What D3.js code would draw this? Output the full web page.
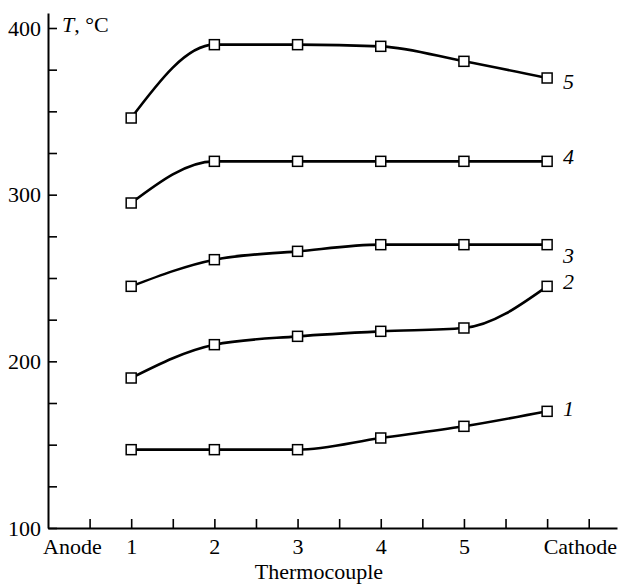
<!DOCTYPE html>
<html lang="en">
<head>
    <meta charset="UTF-8">
    <title>T vs thermocouple</title>
    <script src="https://cdn.jsdelivr.net/npm/d3@7"></script>
    <style>
        body { margin: 0; background: #fff; }
        text { font-family: "Liberation Serif", "Times New Roman", serif; fill: #000; }
    </style>
</head>
<body>
<svg id="svg" width="621" height="584"></svg>
<script>
    // data
    var positions = [1, 2, 3, 4, 5, 6];
    var xLabels = ["Anode", "1", "2", "3", "4", "5", "Cathode"];
    var seriesNames = ["1", "2", "3", "4", "5"];
    var s1 = [147, 147, 147, 154, 161, 170];
    var s2 = [190, 210, 215, 218, 220, 245];
    var s3 = [245, 261, 266, 270, 270, 270];
    var s4 = [295, 320, 320, 320, 320, 320];
    var s5 = [346, 390, 390, 389, 380, 370];
    var yTicks = [100, 125, 150, 175, 200, 225, 250, 275, 300, 325, 350, 375, 400];

    var allSeries = [s1, s2, s3, s4, s5];
    // label nudge for the curve numbers (px)
    var labelDy = [-3, -5, 11, -5, 3];
    var fs = "22px";

    var svg = d3.select("#svg");
    var x = d3.scaleLinear().domain([0, 6.84]).range([48, 617]);
    var y = d3.scaleLinear().domain([100, 409]).range([528, 13]);

    // y axis
    var gy = svg.append("g")
        .attr("transform", "translate(48,0)")
        .call(d3.axisLeft(y)
            .tickValues(yTicks)
            .tickSizeInner(-9)
            .tickSizeOuter(0)
            .tickPadding(7)
            .tickFormat(function (d) { return d % 100 === 0 ? d : ""; }));

    // x axis
    var xt = d3.range(0.5, 6.6, 0.5);
    var gx = svg.append("g")
        .attr("transform", "translate(0,528)")
        .call(d3.axisBottom(x)
            .tickValues(xt)
            .tickSizeInner(-9)
            .tickSizeOuter(0)
            .tickPadding(10)
            .tickFormat(function (d) {
                return (d % 1 === 0 && d >= 1 && d <= 5) ? xLabels[d] : "";
            }));

    [gx, gy].forEach(function (g) {
        g.select(".domain").attr("stroke", "#000").attr("stroke-width", 2);
        g.selectAll(".tick line").attr("stroke", "#000").attr("stroke-width", 1.6);
        g.selectAll(".tick text").style("font-size", fs).attr("fill", "#000");
    });

    // end labels Anode / Cathode
    svg.append("text")
        .attr("x", x(0) - 5).attr("y", 528 + 10).attr("dy", "0.71em")
        .attr("text-anchor", "start")
        .style("font-size", fs)
        .text(xLabels[0]);
    svg.append("text")
        .attr("x", x(6.84)).attr("y", 528 + 10).attr("dy", "0.71em")
        .attr("text-anchor", "end")
        .style("font-size", fs)
        .text(xLabels[6]);

    // axis titles
    svg.append("text")
        .attr("x", 319).attr("y", 579)
        .attr("text-anchor", "middle")
        .style("font-size", fs)
        .text("Thermocouple");
    var yt = svg.append("text")
        .attr("x", 62).attr("y", 32)
        .style("font-size", fs);
    yt.append("tspan").style("font-style", "italic").text("T");
    yt.append("tspan").text(", \u00b0C");

    // curves
    var line = d3.line()
        .x(function (d) { return x(d[0]); })
        .y(function (d) { return y(d[1]); })
        .curve(d3.curveMonotoneX);

    allSeries.forEach(function (vals, k) {
        var pts = positions.map(function (p, i) { return [p, vals[i]]; });
        svg.append("path")
            .datum(pts)
            .attr("d", line)
            .attr("fill", "none")
            .attr("stroke", "#000")
            .attr("stroke-width", 2.6);

        svg.append("g").selectAll("rect")
            .data(pts)
            .enter()
            .append("rect")
            .attr("x", function (d) { return x(d[0]) - 5; })
            .attr("y", function (d) { return y(d[1]) - 5; })
            .attr("width", 10)
            .attr("height", 10)
            .attr("fill", "#fff")
            .attr("stroke", "#000")
            .attr("stroke-width", 1.5);

        var last = pts[pts.length - 1];
        svg.append("text")
            .attr("x", x(last[0]) + 16)
            .attr("y", y(last[1]) + labelDy[k])
            .attr("dy", "0.35em")
            .style("font-size", fs)
            .style("font-style", "italic")
            .text(seriesNames[k]);
    });
</script>
</body>
</html>
